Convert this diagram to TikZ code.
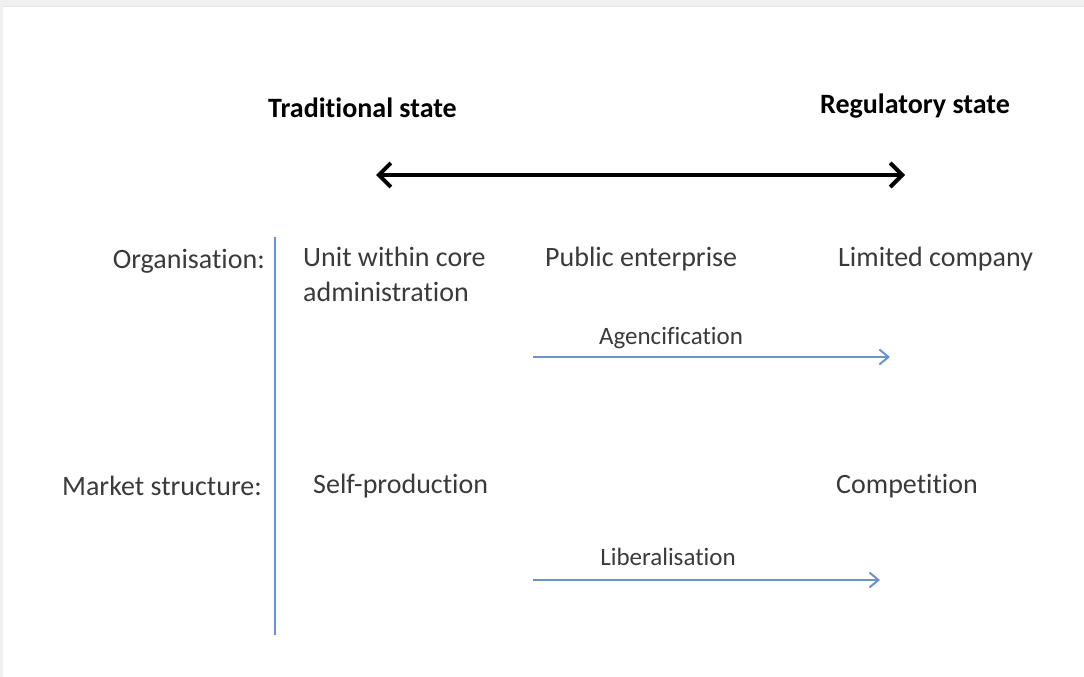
\documentclass[tikz,border=0pt]{standalone}
\usepackage{fontspec}
\setmainfont[RawFeature={-liga;-clig;-calt;-dlig}]{Carlito}
\usetikzlibrary{arrows.meta}
\definecolor{axisblue}{HTML}{6A93CC}
\definecolor{labelgray}{HTML}{3A3A3A}
\tikzset{
  label/.style={anchor=west,inner sep=0pt,text=labelgray,font=\fontsize{28}{35}\selectfont},
  heading/.style={anchor=west,inner sep=0pt,text=black,font=\fontsize{28}{35}\selectfont\bfseries},
  change/.style={anchor=south,inner sep=0pt,text=labelgray,font=\fontsize{25}{30}\selectfont},
  shift arrow/.style={draw=axisblue,line width=2pt,-{Straight Barb[length=9pt,width=15pt]}}
}
\begin{document}
\begin{tikzpicture}[x=1pt,y=-1pt]
    \useasboundingbox (0,0) rectangle (1084,677);
    % frame shadow
    \fill[black!6] (0,0) rectangle (1084,7);
    \fill[black!6] (0,0) rectangle (3,677);
    \draw[black!10,line width=1pt] (3,7) -- (1084,7);
    % the two ends of the scale
    \node[heading] (trad) at (268,108) {Traditional state};
    \node[heading] (reg) at (820,106) {Regulatory state};
    \coordinate (left) at (376,175);
    \coordinate (right) at (905,175);
    \draw[line width=4pt,{Straight Barb[length=12pt,width=24pt]}-{Straight Barb[length=12pt,width=24pt]}] (left) -- (right);
    % row captions and divider
    \coordinate (top) at (275,237);
    \coordinate (bottom) at (275,635);
    \draw[axisblue,line width=2pt] (top) -- (bottom);
    \node[label,anchor=east] (org) at (265,261) {Organisation:};
    \node[label,anchor=east] (market) at (262,486) {Market structure:};
    % organisation row
    \node[label,anchor=north west,align=left] (unit) at (303,247) {Unit within core\\administration};
    \node[label] (public) at (545,259) {Public enterprise};
    \node[label] (ltd) at (838,259) {Limited company};
    \coordinate (ag1) at (533,357);
    \coordinate (ag2) at (890,357);
    \draw[shift arrow] (ag1) -- (ag2);
    \node[change] (agency) at (671,349) {Agencification};
    % market row
    \node[label] (self) at (313,486) {Self-production};
    \node[label] (comp) at (836,486) {Competition};
    \coordinate (lib1) at (533,580);
    \coordinate (lib2) at (880,580);
    \draw[shift arrow] (lib1) -- (lib2);
    \node[change] (liberal) at (668,566) {Liberalisation};
\end{tikzpicture}
\end{document}
